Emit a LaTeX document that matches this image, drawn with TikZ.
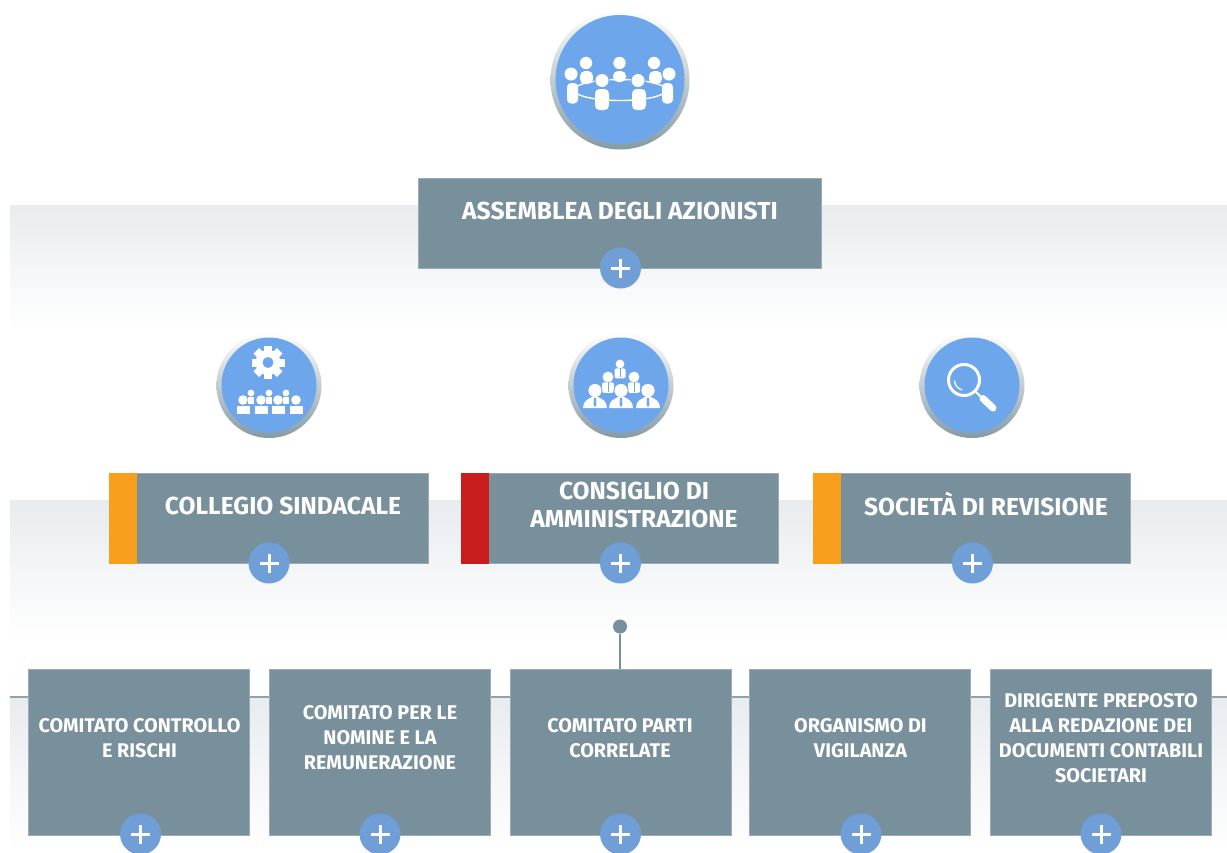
\documentclass[tikz,border=0pt]{standalone}
\usepackage{fontspec}
\setmainfont{Fira Sans}
\definecolor{slatebox}{HTML}{788F9C}
\definecolor{iconblue}{HTML}{6DA6EB}
\definecolor{btnblue}{HTML}{6F9FD6}
\definecolor{bandgrey}{HTML}{E8ECEF}
\definecolor{linegrey}{HTML}{8FA3AE}
\definecolor{accorange}{HTML}{F99F1E}
\definecolor{accred}{HTML}{C91C1C}
\tikzset{
  greybox/.style={fill=slatebox,draw=slatebox!75!white,line width=.5pt,inner sep=0pt,outer sep=0pt,anchor=north west},
  accent/.style={inner sep=0pt,outer sep=0pt,anchor=north west,minimum width=27.5pt,minimum height=91pt},
  plusbtn/.style={circle,fill=btnblue,inner sep=0pt,minimum size=41pt,
    path picture={\draw[white,line width=3pt]
      ([xshift=-9.5pt]path picture bounding box.center)--([xshift=9.5pt]path picture bounding box.center)
      ([yshift=-9.5pt]path picture bounding box.center)--([yshift=9.5pt]path picture bounding box.center);}},
  boxtext/.style={text=white,align=center,inner sep=0pt},
  big/.style={boxtext,font=\fontsize{24.6}{28}\selectfont\bfseries},
  small/.style={boxtext,font=\fontsize{19.8}{25}\selectfont\bfseries},
  band/.style={top color=bandgrey,bottom color=white,draw=none},
}
\newcommand{\iconbase}[3]{%
  \shade[top color=white,middle color=slatebox!18!white,bottom color=slatebox!90!white,draw=none] (#1,#2) circle[radius=#3+5];
  \fill[iconblue] (#1,#2-.5) circle[radius=#3];
}
\begin{document}
\begin{tikzpicture}[x=1pt,y=-1pt]
\useasboundingbox (0,0) rectangle (1227,852);
\clip (0,0) rectangle (1227,852);
\fill[white] (0,0) rectangle (1227,852);
% bands
\shade[band] (10,205) rectangle (1227,330);
\shade[band] (10,500) rectangle (1227,640);
\shade[band] (10,697) rectangle (1227,852);
\draw[linegrey,line width=2pt] (10,697) -- (1227,697);

% top icon
\iconbase{620}{80}{64.5}
\foreach \x/\y/\r in {586/63/6.2,619.5/63/6.2,654/63/6.2}{\fill[white] (\x,\y) circle[radius=\r];}
\fill[white,rounded corners=5pt] (580,71) rectangle (593,84);
\fill[white,rounded corners=5pt] (613,71) rectangle (626,82);
\fill[white,rounded corners=5pt] (649,71) rectangle (662,84);
\draw[white,line width=1.4pt] (620,90) ellipse[x radius=46,y radius=10.5];
\foreach \x/\y in {571/74,669/74,602/80.5,638/80.5}{
  \fill[iconblue] (\x,\y) circle[radius=7.6];
  \fill[white] (\x,\y) circle[radius=6.5];}
\fill[white,rounded corners=4pt] (567,83) rectangle (578,103.5);
\fill[white,rounded corners=4pt] (662,83) rectangle (673,103.5);
\fill[white,rounded corners=4.5pt] (595,89) rectangle (609,110);
\fill[white,rounded corners=4.5pt] (632,89) rectangle (646,110);

% icon 2
\iconbase{269}{385.5}{47.5}
\fill[white] (268,362.5) circle[radius=12.5];
\foreach \a in {0,45,...,315}{
  \fill[white,rotate around={\a:(268,362.5)}] (264,346) rectangle (272,353);
}
\fill[iconblue] (268,362.5) circle[radius=5.5];
\foreach \x in {251,269,286}{
  \fill[white] (\x,393) circle[radius=3.4];
  \fill[white] (\x-3,397) rectangle (\x+3,404);
}
\foreach \x in {243,261,278,296}{
  \fill[white] (\x,400) circle[radius=4.8];
  \fill[white] (\x-6.5,406) rectangle (\x+6.5,414);
}

% icon 3
\iconbase{621}{385.5}{47.5}
\foreach \x/\y/\r/\w/\h in {620/364/4.4/5.5/10,608/377/5.4/6/10.5,634/377/5.4/6/10.5}{
  \fill[white] (\x,\y) circle[radius=\r];
  \fill[white,rounded corners=1.5pt] (\x-\w,\y+\r) rectangle (\x+\w,\y+\r+\h);
  \draw[iconblue,line width=.9pt] (\x,\y+\r) -- (\x,\y+\r+\h-1);
}
\foreach \x in {595,621,648}{
  \fill[iconblue] (\x,390.5) circle[radius=7.6];
  \fill[white] (\x,390.5) circle[radius=6.6];
  \fill[white] (\x-12,408) .. controls (\x-12,401) and (\x-7,399) .. (\x-3,397)
     -- (\x+3,397) .. controls (\x+7,399) and (\x+12,401) .. (\x+12,408) -- cycle;
  \fill[iconblue] (\x-1,398) -- (\x+1,398) -- (\x+1.4,405) -- (\x,407) -- (\x-1.4,405) -- cycle;
}

% icon 4
\iconbase{972}{385.5}{47.5}
\draw[white,line width=3pt] (964,380) circle[radius=15.5];
\draw[white,line width=1.3pt,line cap=round] (954.5,381) arc[start angle=175,end angle=105,radius=10];
\draw[white,line width=2pt] (975,391) -- (982,398);
\draw[white,line width=7pt,line cap=round] (983,398.5) -- (993,408);

% top box
\node[greybox,minimum width=403pt,minimum height=90pt] (assemblea) at (418,178) {};
\node[big] (assembleat) at (620,211) {ASSEMBLEA DEGLI AZIONISTI};
\node[plusbtn] (p0) at (620.5,268) {};

% middle row
\node[greybox,minimum width=319.5pt,minimum height=90.5pt] (collegio) at (109,473) {};
\node[accent,fill=accorange] (collegioa) at (109,473) {};
\node[big] (collegiot) at (283,506) {COLLEGIO SINDACALE};
\node[plusbtn] (p1) at (269,563) {};

\node[greybox,minimum width=317.5pt,minimum height=90.5pt] (consiglio) at (461,473) {};
\node[accent,fill=accred] (consiglioa) at (461,473) {};
\node[big] (consigliot) at (634,505) {CONSIGLIO DI\\AMMINISTRAZIONE};
\node[plusbtn] (p2) at (620.5,563) {};

\node[greybox,minimum width=317.5pt,minimum height=90.5pt] (revisione) at (813,473) {};
\node[accent,fill=accorange] (revisionea) at (813,473) {};
\node[big] (revisionet) at (986,504) {SOCIETÀ DI REVISIONE};
\node[plusbtn] (p3) at (972.5,563) {};

% bottom row
\node[circle,fill=slatebox,inner sep=0pt,minimum size=14pt] (dot) at (620,626.5) {};
\node[greybox,minimum width=221.5pt,minimum height=166pt] (b1) at (28,669) {};
\node[greybox,minimum width=221.5pt,minimum height=166pt] (b2) at (269,669) {};
\node[greybox,minimum width=221.5pt,minimum height=166pt] (b3) at (510,669) {};
\node[greybox,minimum width=221.5pt,minimum height=166pt] (b4) at (749,669) {};
\node[greybox,minimum width=221.5pt,minimum height=166pt] (b5) at (990,669) {};
\draw[slatebox,line width=2.6pt] (dot) -- (dot|-b3.north);

\node[small] (t1) at (139.5,738) {COMITATO CONTROLLO\\E RISCHI};
\node[small] (t2) at (380,738) {COMITATO PER LE\\NOMINE E LA\\REMUNERAZIONE};
\node[small] (t3) at (620,738) {COMITATO PARTI\\CORRELATE};
\node[small] (t4) at (860.5,738) {ORGANISMO DI\\VIGILANZA};
\node[small] (t5) at (1101,738) {DIRIGENTE PREPOSTO\\ALLA REDAZIONE DEI\\DOCUMENTI CONTABILI\\SOCIETARI};

\node[plusbtn] (q1) at (140.5,834) {};
\node[plusbtn] (q2) at (380,834) {};
\node[plusbtn] (q3) at (620.5,834) {};
\node[plusbtn] (q4) at (861,834) {};
\node[plusbtn] (q5) at (1101,834) {};
\end{tikzpicture}
\end{document}
